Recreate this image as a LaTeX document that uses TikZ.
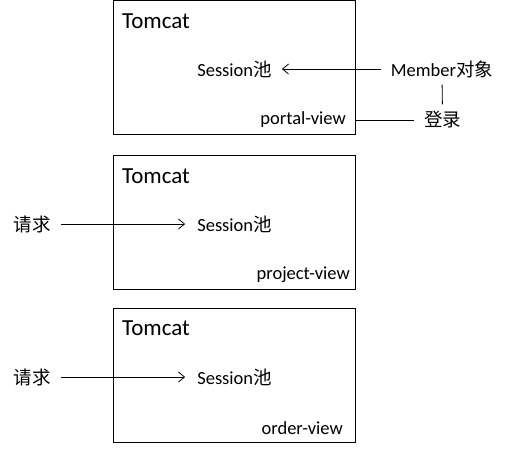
\documentclass[tikz,border=0pt]{standalone}
\usepackage{fontspec}
\setmainfont{Carlito}
\newfontfamily\cjk{Noto Sans CJK SC}
\usetikzlibrary{arrows.meta}
\tikzset{
  box/.style={draw, line width=1pt, minimum width=242pt, minimum height=134pt, inner sep=0pt},
  lbl/.style={inner sep=0pt, font=\fontsize{18.5}{20}\selectfont},
  title/.style={inner sep=0pt, anchor=west, font=\fontsize{23}{25}\selectfont},
  conn/.style={line width=0.8pt},
  arr/.style={conn, -{Straight Barb[length=6pt,width=10pt,line width=0.8pt]}},
}
\begin{document}
\begin{tikzpicture}[x=1pt,y=-1pt]
\useasboundingbox (0,0) rectangle (507,450);
% boxes
\node[box] (b1) at (234,67.5) {};
\node[box] (b2) at (234,222.5) {};
\node[box] (b3) at (234,375.5) {};
% box 1
\node[title] (t1) at (122,21) {Tomcat};
\node[lbl] (s1) at (234.5,69) {Session{\cjk 池}};
\node[lbl, anchor=east] (p1) at (346,120) {portal-view};
\node[lbl] (m) at (442,69) {Member{\cjk 对象}};
\node[lbl] (d) at (442.5,120) {\cjk 登录};
\coordinate (e1) at (b1.east |- p1);
\draw[arr, shorten <=10pt, shorten >=10pt] (m.west) -- (s1.east);
\draw[conn, shorten <=7pt, shorten >=7pt] (m.south) -- (d.north);
\draw[conn, shorten >=10pt] (e1) -- (d.west);
% box 2
\node[title] (t2) at (122,176) {Tomcat};
\node[lbl] (s2) at (234.5,224) {Session{\cjk 池}};
\node[lbl, anchor=east] (p2) at (350,275) {project-view};
\node[lbl] (q2) at (32,224) {\cjk 请求};
\draw[arr, shorten <=10pt, shorten >=12pt] (q2.east) -- (s2.west);
% box 3
\node[title] (t3) at (122,328) {Tomcat};
\node[lbl] (s3) at (234.5,377) {Session{\cjk 池}};
\node[lbl, anchor=east] (p3) at (343,428) {order-view};
\node[lbl] (q3) at (32,377) {\cjk 请求};
\draw[arr, shorten <=10pt, shorten >=12pt] (q3.east) -- (s3.west);
\end{tikzpicture}
\end{document}
